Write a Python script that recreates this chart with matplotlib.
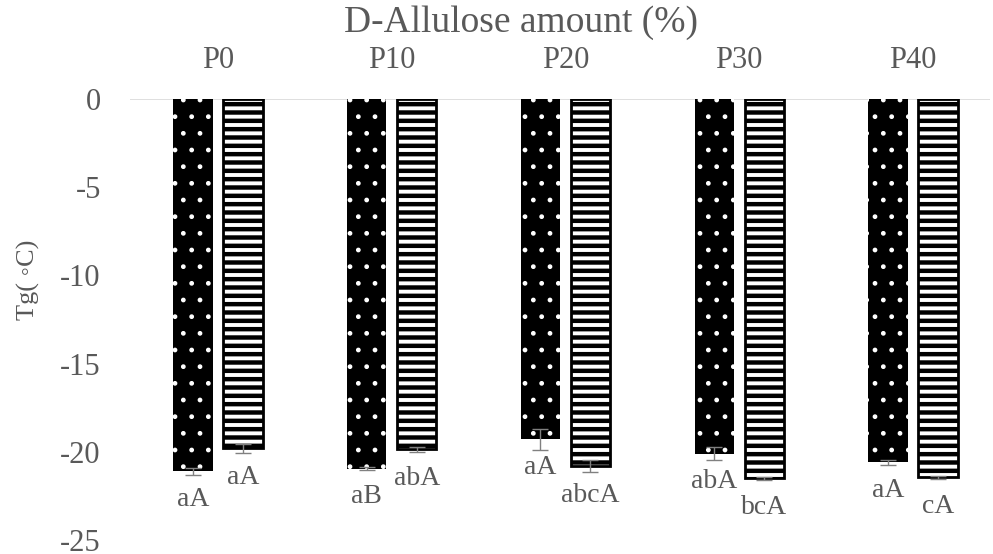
import matplotlib.pyplot as plt
import numpy as np

# Tg by D-Allulose level, two sample types per group
groups = ['P0', 'P10', 'P20', 'P30', 'P40']
tg_dots = [-21.1, -20.95, -19.3, -20.1, -20.6]
err_dots = [0.2, 0.08, 0.6, 0.35, 0.15]
tg_lines = [-19.8, -19.85, -20.8, -21.5, -21.45]
err_lines = [0.25, 0.15, 0.35, 0.08, 0.1]
lab_dots = ['aA', 'aB', 'aA', 'abA', 'aA']
lab_lines = ['aA', 'abA', 'abcA', 'bcA', 'cA']

grey = '#595959'
plt.rcParams['font.family'] = ['Liberation Serif', 'DejaVu Serif']

fig = plt.figure(figsize=(9.93, 5.54), dpi=100)
ax = fig.add_axes([130 / 993, 14 / 554, 860 / 993, 441 / 554])

x = np.arange(len(groups))
w = 0.226
off = 0.144

with plt.rc_context({'hatch.linewidth': 1.0}):
    b1 = ax.bar(x - off, tg_dots, w, color='black', edgecolor='white', lw=0, hatch='.')
for p in b1:
    if hasattr(p, 'set_hatch_linewidth'):
        p.set_hatch_linewidth(1.0)

with plt.rc_context({'hatch.linewidth': 3.2}):
    b2 = ax.bar(x + off, tg_lines, w, color='white', edgecolor='black', lw=2, hatch='--')
for p in b2:
    if hasattr(p, 'set_hatch_linewidth'):
        p.set_hatch_linewidth(3.2)

ax.errorbar(x - off, tg_dots, yerr=err_dots, fmt='none', ecolor='#808080', elinewidth=1, capsize=6, capthick=1)
ax.errorbar(x + off, tg_lines, yerr=err_lines, fmt='none', ecolor='#808080', elinewidth=1, capsize=6, capthick=1)

for i in range(len(groups)):
    ax.text(x[i] - off, tg_dots[i] - 1.6, lab_dots[i], ha='center', va='center', fontsize=20, color=grey)
    ax.text(x[i] + off, tg_lines[i] - 1.65, lab_lines[i], ha='center', va='center', fontsize=20, color=grey)

ax.axhline(0, color='#d9d9d9', lw=1.2, zorder=0)

ax.set_xlim(-0.506, 4.443)
ax.set_ylim(-25, 0)
ax.set_yticks([0, -5, -10, -15, -20, -25])
ax.set_yticklabels(['0', '-5', '-10', '-15', '-20', '-25'])
ax.set_xticks(x)
ax.set_xticklabels(groups)
ax.xaxis.tick_top()
ax.tick_params(axis='both', length=0, labelsize=22, labelcolor=grey)
ax.tick_params(axis='x', pad=17)
ax.tick_params(axis='y', pad=21)
for s in ax.spines.values():
    s.set_visible(False)

# axis title sits over the whole plot area, not just the bars
fig.text(521 / 993, 1 - 23 / 554, 'D-Allulose amount (%)', ha='center', va='center',
         fontsize=27, color=grey)
ax.set_ylabel('Tg( \u25e6C)', fontsize=19, color=grey,
              family=['Liberation Serif', 'DejaVu Sans'])
ax.yaxis.set_label_coords(-90 / 860, (540 - 280) / 441)

fig.savefig('out.png', dpi=100)
